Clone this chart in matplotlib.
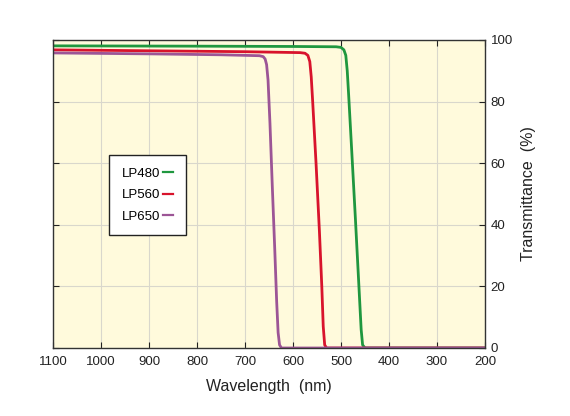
import matplotlib
matplotlib.use("Agg")
import matplotlib.pyplot as plt

# wavelength (nm) / transmittance (%)
lp480_wl = [1100, 800, 600, 510, 500, 494, 490, 487, 484, 478, 470, 462, 458, 455, 450, 200]
lp480_t = [98.1, 98.0, 97.9, 97.8, 97.6, 96.8, 95.0, 90.0, 82.0, 65.0, 42.0, 18.0, 6.0, 1.0, 0.0, 0.0]

lp560_wl = [1100, 900, 700, 585, 575, 569, 565, 562, 559, 552, 545, 540, 537, 534, 530, 200]
lp560_t = [96.8, 96.5, 96.2, 95.9, 95.7, 95.0, 93.0, 88.0, 80.0, 60.0, 38.0, 20.0, 7.0, 1.0, 0.0, 0.0]

lp650_wl = [1100, 900, 750, 670, 662, 658, 655, 652, 648, 643, 638, 634, 631, 628, 624, 200]
lp650_t = [95.8, 95.5, 95.2, 94.9, 94.6, 93.8, 92.0, 87.0, 73.0, 52.0, 32.0, 15.0, 5.0, 1.0, 0.0, 0.0]

labels = ["LP480", "LP560", "LP650"]
colors = ["#1f973f", "#d8132c", "#9c5596"]

xticks = [200, 300, 400, 500, 600, 700, 800, 900, 1000, 1100]
yticks = [0, 20, 40, 60, 80, 100]

plt.rcParams['font.family'] = ['Liberation Sans', 'DejaVu Sans']

fig = plt.figure(figsize=(5.7, 4.16), dpi=100)
ax = fig.add_axes([53/570, 1-348/416, 432/570, 308/416])
ax.set_facecolor("#fffadc")

ax.plot(lp480_wl, lp480_t, color=colors[0], lw=2, label=labels[0], solid_joinstyle='round')
ax.plot(lp560_wl, lp560_t, color=colors[1], lw=2, label=labels[1], solid_joinstyle='round')
ax.plot(lp650_wl, lp650_t, color=colors[2], lw=2, label=labels[2], solid_joinstyle='round')

ax.set_xlim(1100, 200)
ax.set_ylim(0, 100)
ax.set_xticks(xticks)
ax.set_yticks(yticks)
ax.grid(True, color="#d9d7cc", lw=0.8)
ax.set_axisbelow(True)

ax.yaxis.tick_right()
ax.yaxis.set_label_position("right")
ax.tick_params(direction='in', length=4, top=True, left=True, right=True, bottom=True,
               labelsize=9.5, colors='#222222')
ax.tick_params(axis='x', pad=6)
ax.tick_params(axis='y', pad=4)
for s in ax.spines.values():
    s.set_color("#333333")
    s.set_linewidth(1)

ax.set_xlabel("Wavelength  (nm)", fontsize=11.5, labelpad=8, color='#222222')
ax.set_ylabel("Transmittance  (%)", fontsize=11.5, labelpad=6, rotation=90, color='#222222')

leg = ax.legend(loc='upper left', bbox_to_anchor=(0.13, 0.627), borderaxespad=0,
                markerfirst=False, fontsize=9.5, handlelength=0.8, labelspacing=0.7,
                borderpad=0.95, handletextpad=0.2, fancybox=False, framealpha=1)
leg.get_frame().set_edgecolor("#222222")
leg.get_frame().set_linewidth(1)
for ln in leg.get_lines():
    ln.set_linewidth(1.6)

fig.savefig("out.png", dpi=100)
